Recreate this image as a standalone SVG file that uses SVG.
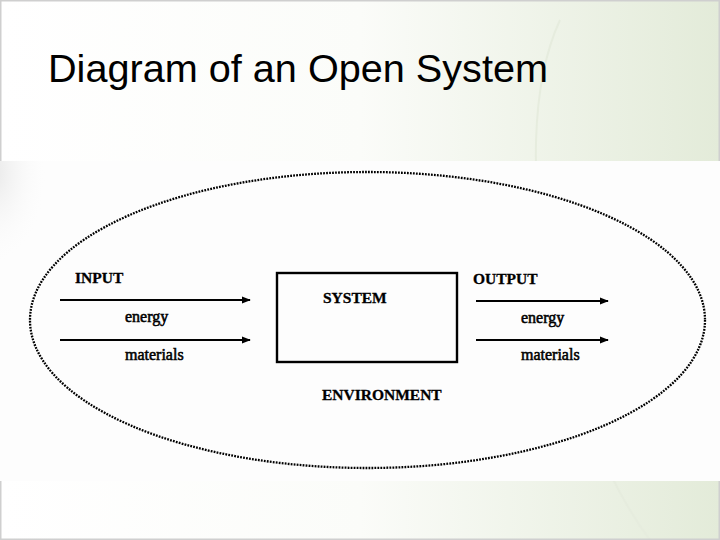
<svg xmlns="http://www.w3.org/2000/svg" width="720" height="540" viewBox="0 0 720 540">
  <defs>
    <linearGradient id="bg" x1="0" y1="0" x2="1" y2="0">
      <stop offset="0" stop-color="#ffffff"/>
      <stop offset="0.5" stop-color="#fbfcf9"/>
      <stop offset="1" stop-color="#e3ebd9"/>
    </linearGradient>
    <radialGradient id="smudge" cx="0.3" cy="0.3" r="0.7">
      <stop offset="0" stop-color="#e6e6e6" stop-opacity="0.9"/>
      <stop offset="1" stop-color="#ffffff" stop-opacity="0"/>
    </radialGradient>
    <clipPath id="scan"><rect x="0" y="161" width="720" height="320"/></clipPath>
    <marker id="arrow" viewBox="0 0 10 10" refX="9" refY="5" markerWidth="9" markerHeight="9" markerUnits="userSpaceOnUse" orient="auto">
      <path d="M0,1 L10,5 L0,9 Z" fill="#000"/>
    </marker>
    <style>
      .title { font-family: "Liberation Sans", Arial, sans-serif; font-size: 38px; fill: #000; }
      .caps { font-family: "Liberation Serif", "Times New Roman", serif; font-size: 15.5px; font-weight: bold; fill: #000; stroke: #000; stroke-width: 0.3; }
      .small { font-family: "Liberation Serif", "Times New Roman", serif; font-size: 16px; fill: #000; stroke: #000; stroke-width: 0.55; }
      .flow { stroke: #000; stroke-width: 2.2; fill: none; marker-end: url(#arrow); }
      .env { fill: none; stroke: #000; stroke-width: 2.3; stroke-dasharray: 1.8 1.2; }
      .box { fill: none; stroke: #000; stroke-width: 2.4; }
    </style>
  </defs>

  <rect x="0" y="0" width="720" height="540" fill="url(#bg)"/>
  <path d="M40,380 C100,200 420,170 620,330" fill="none" stroke="#eef2e8" stroke-width="2"/>
  <path d="M560,20 C500,150 560,420 650,540" fill="none" stroke="#e6ecde" stroke-width="2"/>
  <rect x="0" y="0" width="720" height="540" fill="none" stroke="#cfcfcf" stroke-width="3"/>

  <text class="title" x="48" y="82" textLength="500" lengthAdjust="spacingAndGlyphs">Diagram of an Open System</text>

  <!-- scanned figure area -->
  <rect x="0" y="161" width="720" height="320" fill="#fdfdfd"/>
  <ellipse cx="10" cy="200" rx="40" ry="70" fill="url(#smudge)" clip-path="url(#scan)"/>

  <g id="environment">
    <ellipse class="env" cx="367.5" cy="320" rx="337.5" ry="148"/>
    <text class="caps" x="322" y="400">ENVIRONMENT</text>
  </g>

  <g id="system">
    <rect class="box" x="277" y="273" width="180" height="89"/>
    <text class="caps" x="323" y="303">SYSTEM</text>
  </g>

  <g id="input">
    <text class="caps" x="75" y="283">INPUT</text>
    <text class="small" x="125" y="322">energy</text>
    <text class="small" x="125" y="360">materials</text>
  </g>

  <g id="output">
    <text class="caps" x="473" y="284">OUTPUT</text>
    <text class="small" x="521" y="323">energy</text>
    <text class="small" x="521" y="360">materials</text>
  </g>

  <g id="connectors">
    <line class="flow" x1="60" y1="300" x2="250" y2="300"/>
    <line class="flow" x1="60" y1="340" x2="250" y2="340"/>
    <line class="flow" x1="476" y1="301" x2="608" y2="301"/>
    <line class="flow" x1="476" y1="340" x2="608" y2="340"/>
  </g>
</svg>
